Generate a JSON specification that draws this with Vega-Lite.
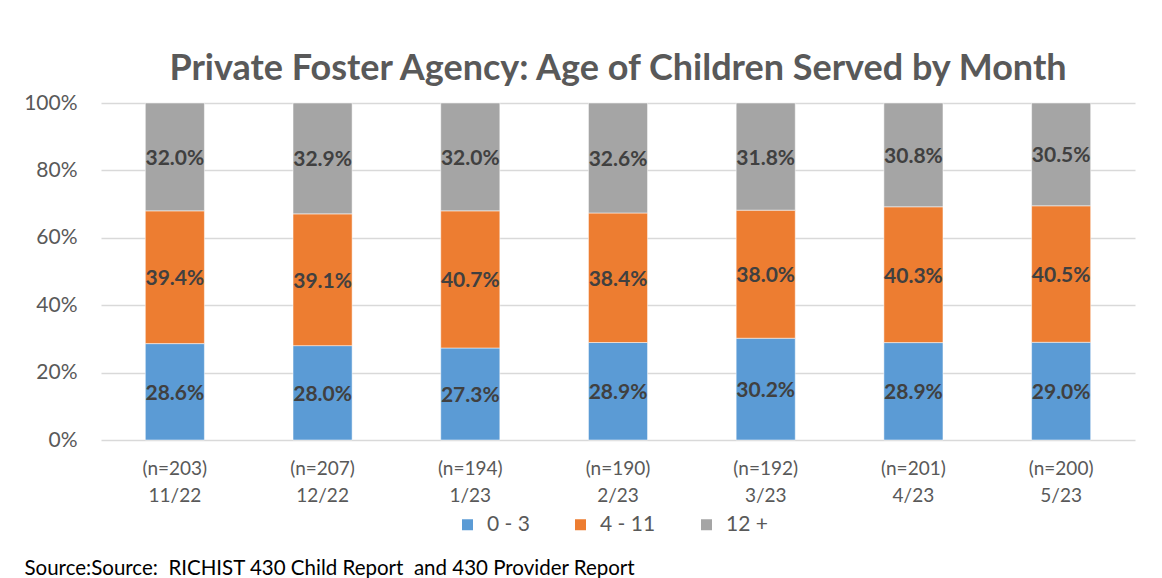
{
  "$schema": "https://vega.github.io/schema/vega-lite/v6.json",
  "width": 1034,
  "height": 337,
  "autosize": "none",
  "padding": {"left": 101, "top": 103, "right": 27, "bottom": 138},
  "background": "white",
  "title": {
    "text": "Private Foster Agency: Age of Children Served by Month",
    "fontSize": 36,
    "fontWeight": "bold",
    "color": "#595959",
    "font": "Lato",
    "anchor": "middle",
    "offset": 4
  },
  "data": {
    "values": [
      {"label": "(n=203)|11/22", "age": "0 - 3", "rank": 1, "pct": 0.286},
      {"label": "(n=203)|11/22", "age": "4 - 11", "rank": 2, "pct": 0.394},
      {"label": "(n=203)|11/22", "age": "12 +", "rank": 3, "pct": 0.320},
      {"label": "(n=207)|12/22", "age": "0 - 3", "rank": 1, "pct": 0.280},
      {"label": "(n=207)|12/22", "age": "4 - 11", "rank": 2, "pct": 0.391},
      {"label": "(n=207)|12/22", "age": "12 +", "rank": 3, "pct": 0.329},
      {"label": "(n=194)|1/23", "age": "0 - 3", "rank": 1, "pct": 0.273},
      {"label": "(n=194)|1/23", "age": "4 - 11", "rank": 2, "pct": 0.407},
      {"label": "(n=194)|1/23", "age": "12 +", "rank": 3, "pct": 0.320},
      {"label": "(n=190)|2/23", "age": "0 - 3", "rank": 1, "pct": 0.289},
      {"label": "(n=190)|2/23", "age": "4 - 11", "rank": 2, "pct": 0.384},
      {"label": "(n=190)|2/23", "age": "12 +", "rank": 3, "pct": 0.326},
      {"label": "(n=192)|3/23", "age": "0 - 3", "rank": 1, "pct": 0.302},
      {"label": "(n=192)|3/23", "age": "4 - 11", "rank": 2, "pct": 0.380},
      {"label": "(n=192)|3/23", "age": "12 +", "rank": 3, "pct": 0.318},
      {"label": "(n=201)|4/23", "age": "0 - 3", "rank": 1, "pct": 0.289},
      {"label": "(n=201)|4/23", "age": "4 - 11", "rank": 2, "pct": 0.403},
      {"label": "(n=201)|4/23", "age": "12 +", "rank": 3, "pct": 0.308},
      {"label": "(n=200)|5/23", "age": "0 - 3", "rank": 1, "pct": 0.290},
      {"label": "(n=200)|5/23", "age": "4 - 11", "rank": 2, "pct": 0.405},
      {"label": "(n=200)|5/23", "age": "12 +", "rank": 3, "pct": 0.305}
    ]
  },
  "transform": [
    {"stack": "pct", "groupby": ["label"], "sort": [{"field": "rank", "order": "ascending"}], "offset": "normalize", "as": ["y0", "y1"]},
    {"calculate": "(datum.y0 + datum.y1) / 2", "as": "ymid"}
  ],
  "encoding": {
    "x": {
      "field": "label",
      "type": "nominal",
      "sort": null,
      "scale": {"paddingInner": 0.6, "paddingOuter": 0.3},
      "axis": {
        "labelExpr": "split(datum.value, '|')",
        "labelAngle": 0,
        "labelFontSize": 19,
        "labelLineHeight": 27,
        "labelColor": "#595959",
        "labelPadding": 28,
        "labelBaseline": "middle",
        "domain": false,
        "ticks": false,
        "title": "Source:Source:\u00a0 RICHIST 430 Child Report\u00a0 and 430 Provider Report",
        "titleFontSize": 20.5,
        "titleFontWeight": "normal",
        "titleColor": "#000000",
        "titleAnchor": "start",
        "titleAlign": "left",
        "titleBaseline": "alphabetic",
        "titleX": -77,
        "titleY": 134
      }
    }
  },
  "layer": [
    {
      "mark": {"type": "bar", "stroke": "white", "strokeWidth": 0.5},
      "encoding": {
        "y": {
          "field": "y1",
          "type": "quantitative",
          "scale": {"domain": [0, 1]},
          "axis": {
            "format": "%",
            "values": [0, 0.2, 0.4, 0.6, 0.8, 1],
            "labelFontSize": 21,
            "labelColor": "#595959",
            "labelPadding": 24,
            "domain": false,
            "ticks": false,
            "gridColor": "#D9D9D9",
            "gridWidth": 1.5,
            "title": null
          }
        },
        "y2": {"field": "y0"},
        "color": {
          "field": "age",
          "type": "nominal",
          "scale": {"domain": ["0 - 3", "4 - 11", "12 +"], "range": ["#5B9BD5", "#ED7D31", "#A5A5A5"]},
          "legend": {
            "title": null,
            "orient": "none",
            "direction": "horizontal",
            "legendX": 356,
            "legendY": 411,
            "symbolType": "square",
            "symbolSize": 121,
            "symbolStrokeWidth": 0,
            "labelFontSize": 21,
            "labelColor": "#595959",
            "labelOffset": 9,
            "columnPadding": 40
          }
        }
      }
    },
    {
      "mark": {"type": "text", "fontSize": 21, "fontWeight": "bold", "color": "#404040", "baseline": "middle", "dy": 2},
      "encoding": {
        "y": {"field": "ymid", "type": "quantitative"},
        "text": {"field": "pct", "type": "quantitative", "format": ".1%"}
      }
    }
  ],
  "config": {
    "font": "Lato",
    "view": {"stroke": null}
  }
}
